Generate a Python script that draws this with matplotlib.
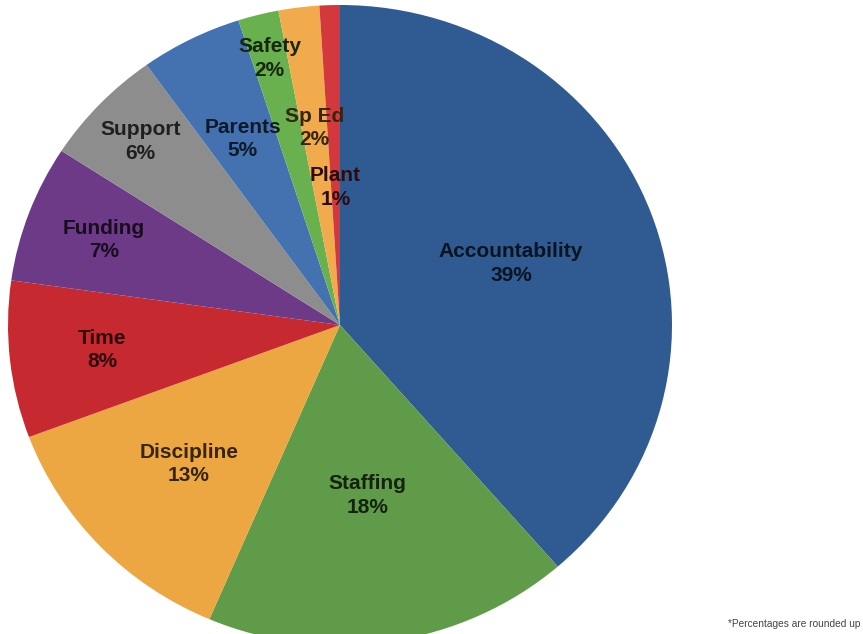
import numpy as np
import matplotlib.pyplot as plt

# datos del grafico
categorias = ['Accountability', 'Staffing', 'Discipline', 'Time', 'Funding',
              'Support', 'Parents', 'Safety', 'Sp Ed', 'Plant']
porcentajes = [39, 18, 13, 8, 7, 6, 5, 2, 2, 1]

colores = ['#2f5a92', '#5f9b48', '#eda742', '#c62a30', '#6d3a88',
           '#8d8d8d', '#4472b0', '#69b04e', '#f2ab4c', '#d2383c']
# distancia de cada etiqueta al centro
dist_etiqueta = [0.55, 0.54, 0.63, 0.72, 0.76, 0.83, 0.65, 0.86, 0.62, 0.43]

plt.rcParams['font.family'] = ['Liberation Sans', 'DejaVu Sans']

fig = plt.figure(figsize=(8.63, 6.34), dpi=100)
ax = fig.add_axes([0, 0, 1, 1])

wedges, _ = ax.pie(porcentajes, colors=colores, startangle=90, counterclock=False,
                   radius=1, center=(0, 0), frame=True)

# el original esta un poco achatado -> escalas distintas en x e y
ax.set_aspect('auto')
ax.set_xlim(-340 / 332, (863 - 340) / 332)
ax.set_ylim(-(634 - 325) / 320, 325 / 320)
ax.axis('off')

for w, nombre, p, r, c in zip(wedges, categorias, porcentajes, dist_etiqueta, colores):
    ang = np.deg2rad((w.theta1 + w.theta2) / 2)
    rgb = np.array(plt.matplotlib.colors.to_rgb(c)) * 0.22
    ax.text(r * np.cos(ang), r * np.sin(ang), '%s\n%d%%' % (nombre, p),
            ha='center', va='center', fontsize=15, fontweight='bold',
            color=rgb, linespacing=1.3)

fig.text(0.997, 0.008, '*Percentages are rounded up', ha='right', va='bottom',
         fontsize=7.3, color='#444444')

fig.savefig('out.png', dpi=100)
